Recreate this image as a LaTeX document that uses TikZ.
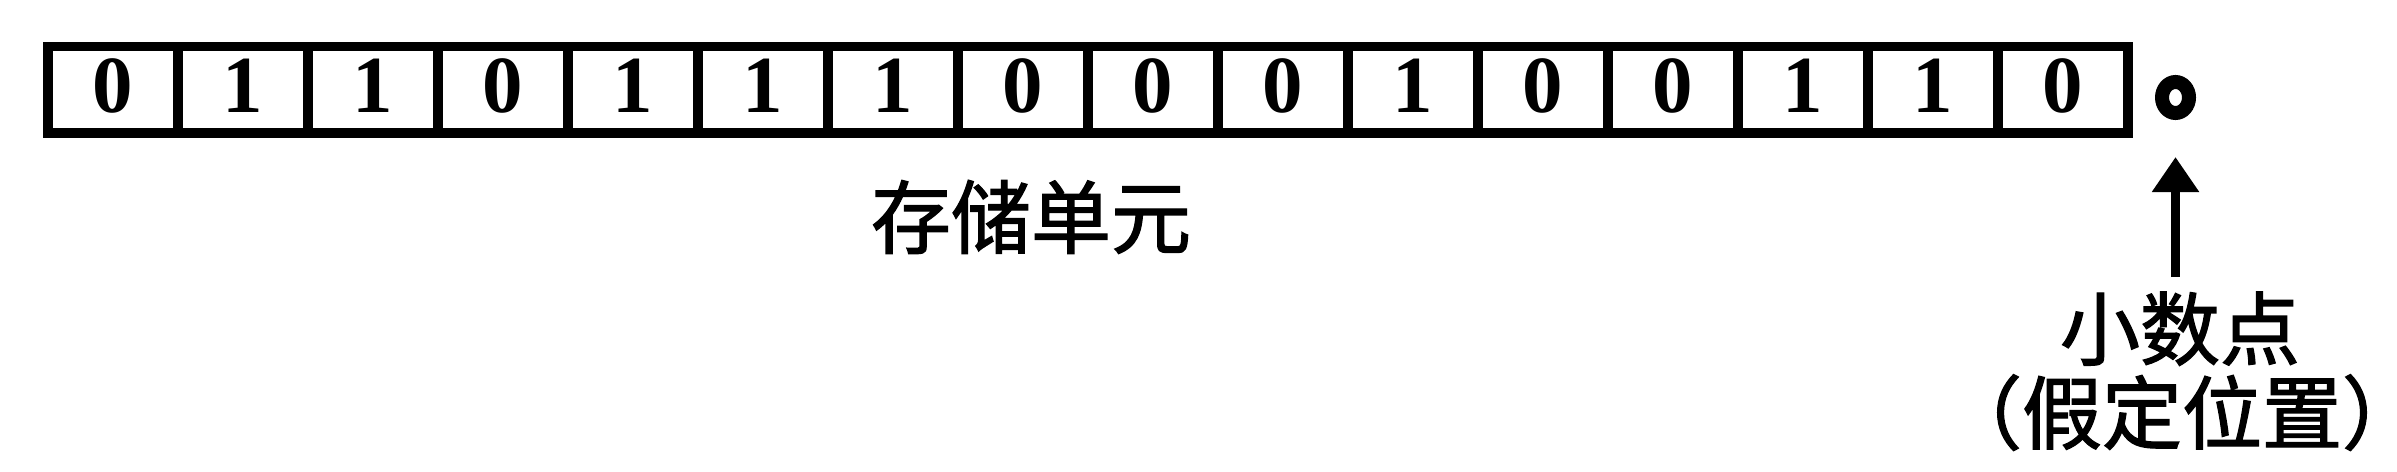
\documentclass[tikz,border=0pt]{standalone}
\usepackage{fontspec}
\setmainfont{Liberation Serif}
\newfontfamily\cjk[FakeBold=1.6]{Noto Sans CJK SC}
\usetikzlibrary{arrows.meta,shapes.geometric}
\begin{document}
\begin{tikzpicture}[x=1pt,y=-1pt,
  cell/.style={draw, line width=9.5pt, minimum width=130pt, minimum height=86.5pt,
    inner sep=0pt, outer sep=0pt, font=\bfseries\fontsize{81}{90}\selectfont,
    text height=55pt, text depth=9pt},
  cjklabel/.style={font=\cjk\fontsize{80}{85}\selectfont, inner sep=0pt, anchor=base},
  ptr/.style={line width=9pt, -{Triangle[width=45pt,length=35pt]}}]
\useasboundingbox (0,0) rectangle (2397,471);
\foreach \d [count=\i] in {0,1,1,0,1,1,1,0,0,0,1,0,0,1,1,0}
  \node[cell] (c\i) at ({48+130*\i-65},89.75) {\d};
\node[draw, ellipse, line width=14pt, minimum width=27pt, minimum height=31pt,
  inner sep=0pt] (pt) at (2175.5,97.5) {};
\coordinate (ast) at (2175.5,277);
\draw[ptr, shorten >=37pt] (ast) -- (pt);
\node[cjklabel] (unit) at (1031,247.5) {存储单元};
\node[cjklabel] (dpa) at (2180,359) {小数点};
\node[cjklabel] (dpb) at (2182,443) {\kern-30pt（假定位置）\kern-30pt};
\end{tikzpicture}
\end{document}
